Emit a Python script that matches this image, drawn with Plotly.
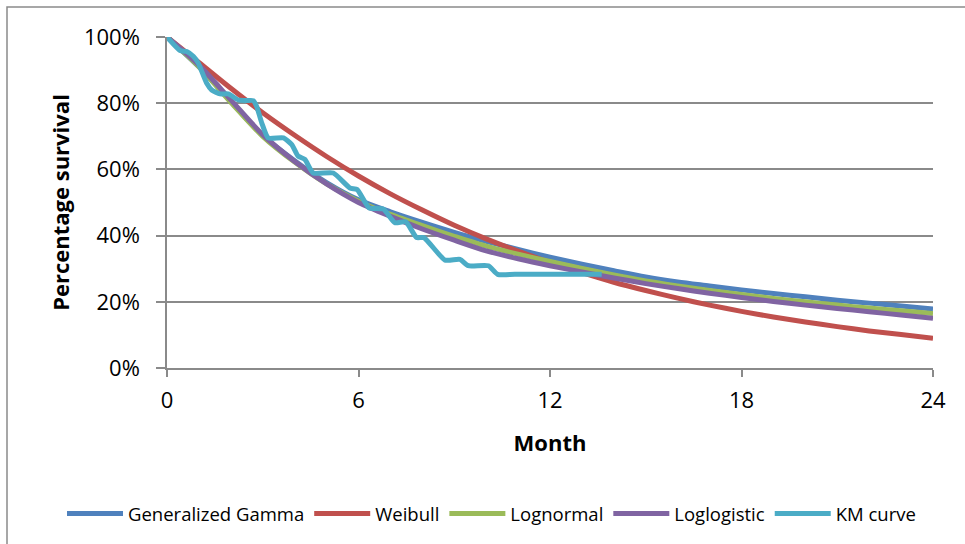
import plotly.graph_objects as go

# ---- data ----
months = list(range(0, 25))
gen_gamma = [100, 91.0, 80.5, 70.2, 62.6, 56.0, 50.8, 47.2, 44.0, 41.0, 38.3, 35.8, 33.5,
             31.4, 29.4, 27.5, 26.0, 24.8, 23.6, 22.5, 21.5, 20.5, 19.6, 18.7, 17.8]
weibull = [100, 92.3, 84.5, 77.1, 70.3, 63.9, 58.0, 52.6, 47.7, 43.1, 39.0, 35.3, 31.9,
           28.8, 25.9, 23.4, 21.1, 19.0, 17.1, 15.4, 13.9, 12.5, 11.2, 10.1, 9.0]
lognormal = [100, 91.0, 80.3, 70.0, 62.2, 55.6, 50.4, 46.4, 43.0, 39.8, 36.8, 34.4, 32.2,
             30.1, 28.1, 26.3, 24.8, 23.4, 22.2, 21.0, 20.0, 19.0, 18.1, 17.3, 16.5]
loglogistic = [100, 91.5, 81.0, 70.5, 62.4, 55.6, 50.0, 45.8, 42.0, 38.6, 35.4, 33.0, 30.9,
               29.0, 27.2, 25.5, 24.0, 22.6, 21.3, 20.1, 19.0, 18.0, 17.0, 16.0, 15.0]

km_months = [0, 0.41, 0.62, 0.83, 0.98, 1.24, 1.40, 1.66, 1.92, 2.23, 2.50, 2.70, 2.81, 2.97,
             3.17, 3.65, 3.91, 4.11, 4.32, 4.58, 5.21, 5.73, 5.96, 6.33, 6.78, 7.14, 7.48,
             7.82, 8.05, 8.71, 9.18, 9.44, 10.07, 10.36, 10.9, 13.62]
km_surv = [100, 95.9, 95.6, 94.1, 92.1, 86.1, 84.0, 82.8, 82.8, 81.0, 80.8, 80.8, 79.0, 74.0,
           69.5, 69.5, 67.5, 64.0, 63.0, 58.9, 58.9, 54.4, 53.9, 48.4, 48.0, 43.9, 44.2,
           39.4, 39.4, 32.6, 32.8, 30.9, 30.9, 28.3, 28.3, 28.3]

x_ticks = [0, 6, 12, 18, 24]
y_ticks = [0, 20, 40, 60, 80, 100]
y_tick_labels = ["0%", "20%", "40%", "60%", "80%", "100%"]

FONT = "Open Sans"
GRID = "#8a8a8a"

fig = go.Figure()
series = [
    ("Generalized Gamma", months, gen_gamma, "#4F81BD"),
    ("Weibull", months, weibull, "#C0504D"),
    ("Lognormal", months, lognormal, "#9BBB59"),
    ("Loglogistic", months, loglogistic, "#8064A2"),
]
for name, xs, ys, col in series:
    fig.add_trace(go.Scatter(x=xs, y=ys, mode="lines", name=name,
                             line=dict(color=col, width=5, shape="spline", smoothing=0.8)))
fig.add_trace(go.Scatter(x=km_months, y=km_surv, mode="lines", name="KM curve",
                         line=dict(color="#4BACC6", width=5, shape="spline", smoothing=0.5)))

fig.update_layout(
    width=965, height=544,
    margin=dict(l=167, r=32, t=37, b=175),
    paper_bgcolor="white", plot_bgcolor="white",
    font=dict(family=FONT, color="black"),
    showlegend=True,
    legend=dict(orientation="h", x=(62 - 167) / 766, xanchor="left",
                y=1 - (514 - 37) / 332, yanchor="middle",
                font=dict(size=18.5, family=FONT), itemwidth=56, tracegroupgap=0,
                bgcolor="rgba(0,0,0,0)"),
)
fig.update_xaxes(range=[0, 24], tickvals=x_ticks, ticktext=[str(v) for v in x_ticks],
                 showgrid=False, zeroline=False, showline=True, linecolor=GRID, linewidth=1.5,
                 ticks="outside", ticklen=7, tickcolor=GRID, tickwidth=1.5,
                 tickfont=dict(size=22, family=FONT), ticklabelstandoff=5,
                 title=dict(text="<b>Month</b>", font=dict(size=22, family=FONT), standoff=22))
fig.update_yaxes(range=[0, 100], tickvals=y_ticks, ticktext=y_tick_labels,
                 showgrid=True, gridcolor=GRID, gridwidth=1.5, zeroline=False,
                 showline=True, linecolor=GRID, linewidth=1.5,
                 ticks="outside", ticklen=9, tickcolor=GRID, tickwidth=1.5,
                 tickfont=dict(size=22, family=FONT), ticklabelstandoff=12,
                 title=dict(text="<b>Percentage survival</b>", font=dict(size=22, family=FONT),
                            standoff=8))

# outer chart-area border (extends beyond the visible window on the right and bottom)
fig.add_shape(type="rect", xref="paper", yref="paper",
              x0=(7 - 167) / 766, x1=(975 - 167) / 766,
              y0=1 - (560 - 37) / 332, y1=1 + (37 - 7) / 332,
              line=dict(color=GRID, width=1.5), fillcolor="rgba(0,0,0,0)", layer="below")

fig.write_html("out.html", config={"displayModeBar": False},
               post_script="document.body.style.margin='0px';document.body.style.overflow='hidden';")
